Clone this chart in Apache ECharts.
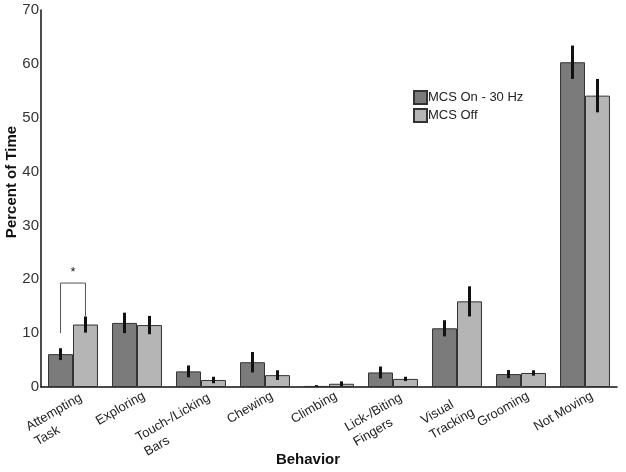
<!DOCTYPE html>
<html>
<head>
<meta charset="utf-8">
<script src="https://cdn.jsdelivr.net/npm/echarts@6/dist/echarts.min.js"></script>
<style>
  html, body { margin: 0; padding: 0; background: #fff; }
  #chart { width: 626px; height: 472px; }
</style>
</head>
<body>
<div id="chart"></div>
<script>
// behaviours on the x axis
var behaviors = [
  "Attempting\nTask", "Exploring", "Touch-/Licking\nBars", "Chewing", "Climbing",
  "Lick-/Biting\nFingers", "Visual\nTracking", "Grooming", "Not Moving"
];
var seriesNames = ["MCS On - 30 Hz", "MCS Off"];
// mean percent of time
var mcsOn = [6.1, 11.9, 2.9, 4.6, 0.2, 2.7, 10.9, 2.4, 60.3];
var mcsOff = [11.6, 11.5, 1.3, 2.2, 0.6, 1.5, 15.9, 2.6, 54.1];
// error (+/-)
var mcsOnErr = [1.1, 1.9, 1.1, 1.9, 0.15, 1.1, 1.5, 0.75, 3.1];
var mcsOffErr = [1.5, 1.7, 0.6, 0.9, 0.45, 0.4, 2.8, 0.5, 3.1];
var yTicks = [0, 10, 20, 30, 40, 50, 60, 70];
// significance bracket: category, left end, right end, top
var sigBracket = [[0, 10.0, 13.2, 19.3]];

var barCategoryGap = 0.22;
var labelFont = "13px Liberation Sans, Arial, sans-serif";
var labelLineH = 17;

var chart = echarts.init(document.getElementById("chart"));

// widest line of each x label, for the rotated labels
var measureCtx = document.createElement("canvas").getContext("2d");
measureCtx.font = labelFont;
function widest(txt) {
  return Math.max.apply(null, txt.split("\n").map(function (l) {
    return measureCtx.measureText(l).width;
  }));
}

function errRender(which) {
  return function (params, api) {
    var idx = api.value(0);
    var mid = api.coord([idx, api.value(1)]);
    var band = api.size([1, 0])[0];
    var bw = band * (1 - barCategoryGap) / 2;
    var x = mid[0] + (which === 0 ? -bw / 2 : bw / 2);
    var hi = api.coord([idx, api.value(1) + api.value(2)]);
    var lo = api.coord([idx, api.value(1) - api.value(2)]);
    return {
      type: "line",
      shape: { x1: x, y1: hi[1], x2: x, y2: lo[1] },
      style: { stroke: "#111", lineWidth: 3 }
    };
  };
}

function errData(vals, errs) {
  var d = [];
  for (var i = 0; i < vals.length; i++) d.push([i, vals[i], errs[i]]);
  return d;
}

var option = {
  animation: false,
  textStyle: { fontFamily: "Liberation Sans, Arial, sans-serif" },
  grid: { left: 41, right: 9, top: 10, bottom: 85 },
  legend: {
    data: seriesNames,
    orient: "vertical",
    left: 408,
    top: 85,
    itemWidth: 13,
    itemHeight: 13,
    itemGap: 3,
    textStyle: { fontSize: 13, color: "#222", padding: [0, 0, 0, -4] },
    icon: "rect"
  },
  xAxis: {
    type: "category",
    data: behaviors,
    axisLine: { lineStyle: { color: "#111", width: 1.5 } },
    axisTick: { show: false },
    axisLabel: { show: false }
  },
  yAxis: {
    type: "value",
    min: 0,
    max: 70,
    interval: 10,
    splitLine: { show: false },
    axisLine: { show: true, lineStyle: { color: "#111", width: 1.5 } },
    axisTick: { show: false },
    axisLabel: {
      fontSize: 15,
      color: "#333",
      margin: 2,
      customValues: yTicks
    }
  },
  graphic: [
    {
      type: "text",
      x: 12,
      y: 182,
      rotation: Math.PI / 2,
      style: {
        text: "Percent of Time",
        font: "bold 15px Liberation Sans, Arial, sans-serif",
        fill: "#111",
        align: "center",
        verticalAlign: "middle"
      }
    },
    {
      type: "text",
      x: 308,
      y: 460,
      style: {
        text: "Behavior",
        font: "bold 15px Liberation Sans, Arial, sans-serif",
        fill: "#111",
        align: "center",
        verticalAlign: "middle"
      }
    }
  ],
  series: [
    {
      name: seriesNames[0],
      type: "bar",
      data: mcsOn,
      barGap: "0%",
      barCategoryGap: barCategoryGap * 100 + "%",
      itemStyle: { color: "#7b7b7b", borderColor: "#333", borderWidth: 1 }
    },
    {
      name: seriesNames[1],
      type: "bar",
      data: mcsOff,
      barGap: "0%",
      barCategoryGap: barCategoryGap * 100 + "%",
      itemStyle: { color: "#b5b5b5", borderColor: "#333", borderWidth: 1 }
    },
    {
      type: "custom",
      renderItem: errRender(0),
      data: errData(mcsOn, mcsOnErr),
      encode: { x: 0, y: 1 },
      z: 10
    },
    {
      type: "custom",
      renderItem: errRender(1),
      data: errData(mcsOff, mcsOffErr),
      encode: { x: 0, y: 1 },
      z: 10
    },
    {
      // rotated category labels, lines left aligned, block ends at the tick
      type: "custom",
      clip: false,
      silent: true,
      data: behaviors.map(function (b, i) { return [i, 0]; }),
      encode: { x: 0, y: 1 },
      renderItem: function (params, api) {
        var idx = api.value(0);
        var txt = behaviors[idx];
        var nLines = txt.split("\n").length;
        var p = api.coord([idx, 0]);
        return {
          type: "group",
          x: p[0],
          y: p[1] + 12,
          rotation: Math.PI / 6,
          children: [{
            type: "text",
            x: 8 - widest(txt),
            y: -labelLineH / 2 + (nLines - 1) * 2,
            style: {
              text: txt,
              font: labelFont,
              lineHeight: labelLineH,
              fill: "#222",
              align: "left",
              verticalAlign: "top"
            }
          }]
        };
      }
    },
    {
      type: "custom",
      data: sigBracket,
      encode: { x: 0, y: 3 },
      z: 11,
      renderItem: function (params, api) {
        var idx = api.value(0);
        var band = api.size([1, 0])[0];
        var bw = band * (1 - barCategoryGap) / 2;
        var top = api.coord([idx, api.value(3)]);
        var xl = top[0] - bw / 2;
        var xr = top[0] + bw / 2;
        var yl = api.coord([idx, api.value(1)])[1];
        var yr = api.coord([idx, api.value(2)])[1];
        return {
          type: "group",
          children: [
            {
              type: "polyline",
              shape: { points: [[xl, yl], [xl, top[1]], [xr, top[1]], [xr, yr]] },
              style: { stroke: "#555", lineWidth: 1, fill: null }
            },
            {
              type: "text",
              x: top[0],
              y: top[1] - 4,
              style: {
                text: "*",
                font: labelFont,
                fill: "#222",
                align: "center",
                verticalAlign: "bottom"
              }
            }
          ]
        };
      }
    }
  ]
};

chart.setOption(option);
</script>
</body>
</html>
